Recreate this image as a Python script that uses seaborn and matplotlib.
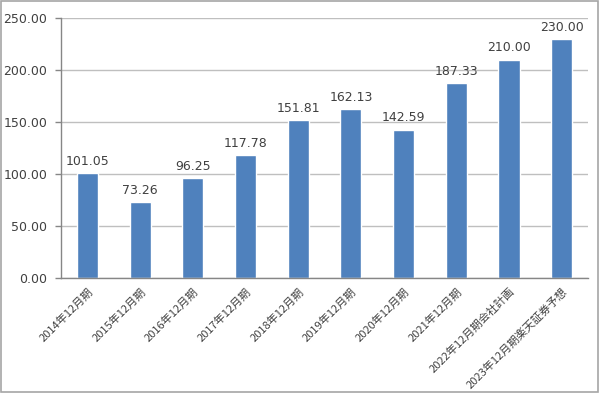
import matplotlib
matplotlib.use("Agg")
import matplotlib.pyplot as plt
import seaborn as sns
import pandas as pd
import numpy as np

# data
periods = ["2014年12月期", "2015年12月期", "2016年12月期", "2017年12月期",
           "2018年12月期", "2019年12月期", "2020年12月期", "2021年12月期",
           "2022年12月期会社計画", "2023年12月期楽天証券予想"]
values = [101.05, 73.26, 96.25, 117.78, 151.81, 162.13, 142.59, 187.33, 210.00, 230.00]

df = pd.DataFrame({"period": periods, "value": values})

sns.set_style("white")
plt.rcParams["font.family"] = ["Noto Sans CJK JP", "DejaVu Sans"]

text_col = "#404040"
num_font = "DejaVu Sans"
fig = plt.figure(figsize=(6, 3.93), dpi=100)
ax = fig.add_axes([0.102, 0.293, 0.878, 0.661])

sns.barplot(data=df, x="period", y="value", color="#4F81BD", saturation=1,
            width=0.4, ax=ax)

for i, v in enumerate(values):
    ax.text(i, v + 5, f"{v:.2f}", ha="center", va="bottom", fontsize=9,
            color=text_col, family=num_font)

ax.set_ylim(0, 250)
ax.set_xlim(-0.5, len(periods) - 0.5)
ax.set_yticks(np.arange(0, 251, 50))
ax.set_yticklabels([f"{t:.2f}" for t in np.arange(0, 251, 50)], fontsize=9,
                   color=text_col, family=num_font)
ax.yaxis.grid(True, color="#BFBFBF", linewidth=1)
ax.set_axisbelow(True)

ax.set_xticks(range(len(periods)))
ax.set_xticklabels(periods, rotation=45, ha="right", rotation_mode="anchor",
                   fontsize=8, color=text_col)
ax.set_xticks(np.arange(-0.5, len(periods), 1), minor=True)
ax.tick_params(axis="x", which="major", length=0, pad=6)
ax.tick_params(axis="x", which="minor", length=4, color="#868686", width=1)
ax.tick_params(axis="y", length=4, color="#868686", width=1, left=True, pad=6)
ax.set_xlabel("")
ax.set_ylabel("")

for side in ["top", "right"]:
    ax.spines[side].set_visible(False)
for side in ["left", "bottom"]:
    ax.spines[side].set_color("#868686")
    ax.spines[side].set_linewidth(1)

# outer frame of the chart area
fig.patches.append(plt.Rectangle((0.002, 0.003), 0.995, 0.994, transform=fig.transFigure,
                                 fill=False, edgecolor="#A6A6A6", linewidth=1.2))

fig.savefig("out.png", dpi=100)
